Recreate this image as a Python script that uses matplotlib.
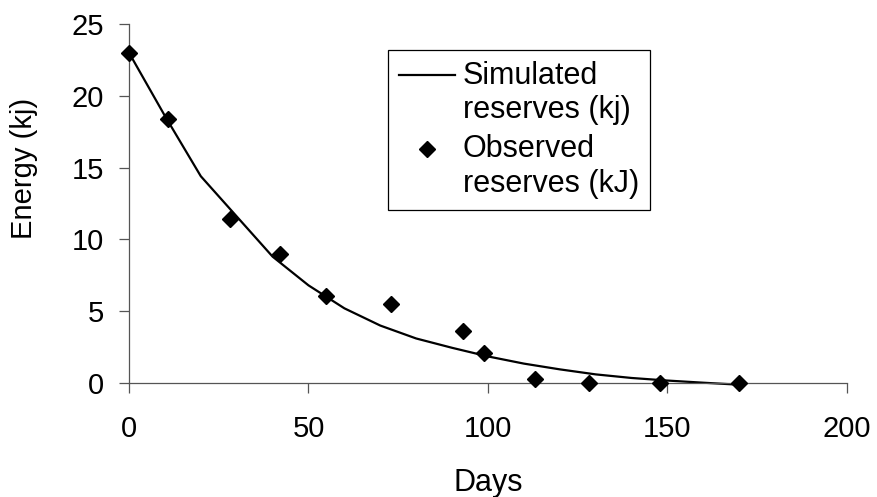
import matplotlib
matplotlib.use("Agg")
import matplotlib.pyplot as plt
from matplotlib.legend_handler import HandlerLine2D

plt.rcParams['font.family'] = ['Liberation Sans', 'DejaVu Sans']

# observed reserves
obs_days = [0, 11, 28, 42, 55, 73, 93, 99, 113, 128, 148, 170]
obs_energy = [23.0, 18.4, 11.4, 9.0, 6.06, 5.48, 3.62, 2.07, 0.26, 0.0, 0.0, 0.0]

# simulated reserves
sim_days = [0, 10, 20, 30, 40, 50, 55, 60, 70, 80, 90, 100, 110, 120, 130, 140, 150, 160, 170]
sim_energy = [23.0, 18.6, 14.4, 11.6, 8.8, 6.8, 6.0, 5.2, 4.0, 3.1, 2.45, 1.85, 1.35,
              0.95, 0.6, 0.35, 0.17, 0.02, -0.12]

x_ticks = [0, 50, 100, 150, 200]
y_ticks = [0, 5, 10, 15, 20, 25]


class FirstLineHandler(HandlerLine2D):
    # put the legend symbol next to the first line of a two-line label
    def create_artists(self, legend, orig_handle, xdescent, ydescent,
                       width, height, fontsize, trans):
        shift = 0.6 * fontsize
        return super().create_artists(legend, orig_handle, xdescent,
                                      ydescent - 2 * shift, width, height,
                                      fontsize, trans)


fig = plt.figure(figsize=(8.78, 4.97), dpi=100)
ax = fig.add_axes([129 / 878, 1 - 383 / 497, 718 / 878, 359 / 497])

line, = ax.plot(sim_days, sim_energy, color='black', lw=1.6, clip_on=False,
                label='Simulated\nreserves (kj)')
pts, = ax.plot(obs_days, obs_energy, ls='none', marker='D', ms=8, color='black',
               clip_on=False, label='Observed\nreserves (kJ)', zorder=3)

ax.set_xlim(0, 200)
ax.set_ylim(0, 25)
ax.set_xticks(x_ticks)
ax.set_yticks(y_ticks)

for side in ['top', 'right']:
    ax.spines[side].set_visible(False)
for side in ['left', 'bottom']:
    ax.spines[side].set_color('#555555')
    ax.spines[side].set_linewidth(0.9)

ax.tick_params(axis='both', direction='out', length=7, width=0.9, color='#555555',
               labelsize=21)
ax.tick_params(axis='x', pad=16)
ax.tick_params(axis='y', pad=11)

ax.set_xlabel('Days', fontsize=22)
ax.xaxis.set_label_coords(0.5, -0.238)
ax.set_ylabel('Energy (kj)', fontsize=21)
ax.yaxis.set_label_coords(-0.1267, 0.599)

leg = ax.legend(handles=[line, pts], loc='upper left',
                bbox_to_anchor=(388 / 878, 1 - 50 / 497), bbox_transform=fig.transFigure,
                fontsize=22, frameon=True, fancybox=False, framealpha=1,
                edgecolor='black', handlelength=1.85, handletextpad=0.25,
                borderpad=0.35, labelspacing=0.3, borderaxespad=0,
                handler_map={line: FirstLineHandler(), pts: FirstLineHandler()})
leg.get_frame().set_linewidth(0.9)

fig.savefig('out.png', dpi=100)
